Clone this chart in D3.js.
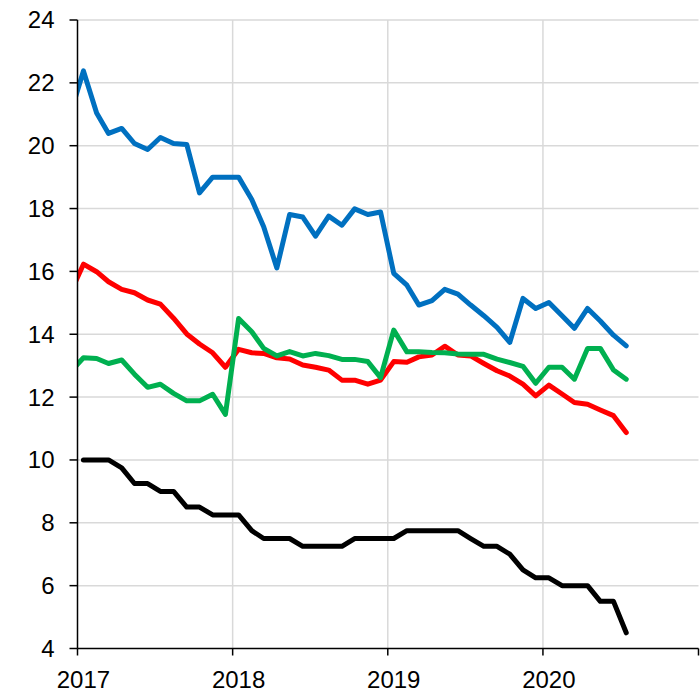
<!DOCTYPE html>
<html>
<head>
<meta charset="utf-8">
<script src="https://cdn.jsdelivr.net/npm/d3@7"></script>
<style>
  body { margin: 0; background: #fff; }
  text { font-family: "Liberation Sans", Arial, sans-serif; fill: #000; }
</style>
</head>
<body>
<svg id="chart" width="700" height="693"></svg>
<script>
// monthly series, Dec 2016 .. Jul 2020 (Dec 2016 is clipped at the axis)
var blueVals = [21.0,
  22.38, 21.04, 20.39, 20.55, 20.07, 19.88, 20.26, 20.07, 20.04, 18.5, 19.0, 19.0,
  19.0, 18.29, 17.42, 16.11, 17.81, 17.73, 17.12, 17.76, 17.47, 17.99, 17.81, 17.89,
  15.94, 15.56, 14.93, 15.07, 15.43, 15.28, 14.93, 14.59, 14.22, 13.74, 15.14, 14.82,
  15.01, 14.59, 14.19, 14.82, 14.42, 13.97, 13.63];
var redVals = [15.3,
  16.23, 15.99, 15.67, 15.43, 15.32, 15.09, 14.96, 14.51, 14.01, 13.69, 13.41, 12.95,
  13.52, 13.41, 13.39, 13.25, 13.21, 13.02, 12.95, 12.86, 12.54, 12.54, 12.41, 12.54,
  13.13, 13.11, 13.28, 13.34, 13.62, 13.34, 13.31, 13.07, 12.84, 12.67, 12.41, 12.04,
  12.38, 12.1, 11.83, 11.77, 11.59, 11.41, 10.87];
var greenVals = [12.8,
  13.25, 13.23, 13.07, 13.18, 12.73, 12.31, 12.41, 12.12, 11.88, 11.88, 12.09, 11.45,
  14.5, 14.08, 13.55, 13.31, 13.45, 13.31, 13.39, 13.32, 13.2, 13.2, 13.13, 12.62,
  14.13, 13.44, 13.44, 13.42, 13.41, 13.37, 13.36, 13.36, 13.21, 13.1, 12.98, 12.44,
  12.95, 12.95, 12.57, 13.55, 13.55, 12.86, 12.57];
// black starts Jan 2017
var blackVals = [
  10, 10, 10, 9.75, 9.25, 9.25, 9.0, 9.0, 8.5, 8.5, 8.25, 8.25,
  8.25, 7.75, 7.5, 7.5, 7.5, 7.25, 7.25, 7.25, 7.25, 7.5, 7.5, 7.5,
  7.5, 7.75, 7.75, 7.75, 7.75, 7.75, 7.5, 7.25, 7.25, 7.0, 6.5, 6.25,
  6.25, 6.0, 6.0, 6.0, 5.5, 5.5, 4.5];

var yTicks = [4, 6, 8, 10, 12, 14, 16, 18, 20, 22, 24];
var xYears = [2017, 2018, 2019, 2020, 2021];

// mid-month dates
var months = d3.timeMonth.range(new Date(2016, 11, 1), new Date(2020, 7, 1))
  .map(function (d) { return d3.timeDay.offset(d, 14); });

var plotLeft = 77.5, plotRight = 698.5, plotTop = 20, plotBottom = 648.5;

var x = d3.scaleTime()
  .domain([new Date(2017, 0, 1), new Date(2021, 0, 1)])
  .range([plotLeft, plotRight]);
var y = d3.scaleLinear().domain([4, 24]).range([plotBottom, plotTop]);

var svg = d3.select('#chart');

svg.append('defs').append('clipPath').attr('id', 'plot')
  .append('rect')
  .attr('x', plotLeft).attr('y', 0)
  .attr('width', plotRight - plotLeft).attr('height', 693);

// gridlines
svg.append('g').selectAll('line')
  .data(yTicks.slice(1))
  .enter().append('line')
  .attr('x1', plotLeft).attr('x2', plotRight)
  .attr('y1', function (d) { return y(d); })
  .attr('y2', function (d) { return y(d); })
  .attr('stroke', '#d9d9d9').attr('stroke-width', 1.5);
svg.append('g').selectAll('line')
  .data(xYears.slice(1, 4))
  .enter().append('line')
  .attr('x1', function (d) { return x(new Date(d, 0, 1)); })
  .attr('x2', function (d) { return x(new Date(d, 0, 1)); })
  .attr('y1', plotTop).attr('y2', plotBottom)
  .attr('stroke', '#d9d9d9').attr('stroke-width', 1.5);

var line = d3.line()
  .x(function (d) { return x(d[0]); })
  .y(function (d) { return y(d[1]); });

var series = [
  { vals: redVals, color: '#ff0000', off: 0 },
  { vals: greenVals, color: '#00b050', off: 0 },
  { vals: blueVals, color: '#0070c0', off: 0 },
  { vals: blackVals, color: '#000000', off: 1 }
];

var lines = svg.append('g').attr('clip-path', 'url(#plot)');
series.forEach(function (s) {
  var pts = s.vals.map(function (v, i) { return [months[i + s.off], v]; });
  lines.append('path')
    .attr('d', line(pts))
    .attr('fill', 'none')
    .attr('stroke', s.color)
    .attr('stroke-width', 5)
    .attr('stroke-linejoin', 'round')
    .attr('stroke-linecap', 'round');
});

// y axis
var yAxis = svg.append('g').attr('transform', 'translate(' + plotLeft + ',0)');
yAxis.append('line')
  .attr('x1', 0).attr('x2', 0).attr('y1', plotTop).attr('y2', plotBottom)
  .attr('stroke', '#000').attr('stroke-width', 1.5);
yAxis.selectAll('.tick').data(yTicks).enter().append('line')
  .attr('x1', -8).attr('x2', 0)
  .attr('y1', function (d) { return y(d); })
  .attr('y2', function (d) { return y(d); })
  .attr('stroke', '#000').attr('stroke-width', 1.5);
yAxis.selectAll('text').data(yTicks).enter().append('text')
  .attr('x', -23)
  .attr('y', function (d) { return y(d); })
  .attr('dy', '0.35em')
  .attr('text-anchor', 'end')
  .style('font-size', '24px')
  .text(function (d) { return d; });

// x axis
var xAxis = svg.append('g');
xAxis.append('line')
  .attr('x1', plotLeft).attr('x2', plotRight).attr('y1', plotBottom).attr('y2', plotBottom)
  .attr('stroke', '#000').attr('stroke-width', 1.5);
xAxis.selectAll('.tick').data(xYears).enter().append('line')
  .attr('x1', function (d) { return x(new Date(d, 0, 1)); })
  .attr('x2', function (d) { return x(new Date(d, 0, 1)); })
  .attr('y1', plotBottom).attr('y2', plotBottom + 7)
  .attr('stroke', '#000').attr('stroke-width', 1.5);
xAxis.selectAll('text').data(xYears.slice(0, 4)).enter().append('text')
  .attr('x', function (d) { return x(new Date(d, 0, 15)); })
  .attr('y', 688)
  .attr('text-anchor', 'middle')
  .style('font-size', '24px')
  .text(function (d) { return d; });
</script>
</body>
</html>
